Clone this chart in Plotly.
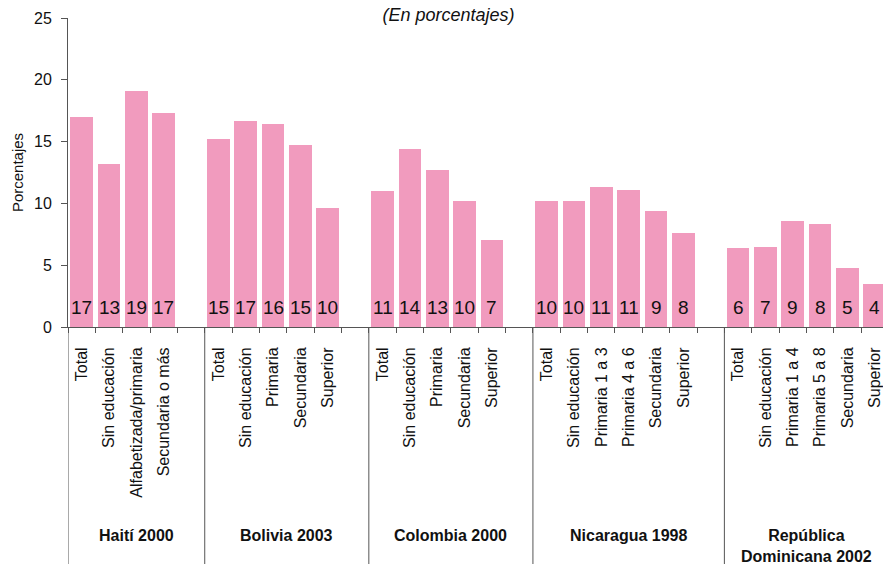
import plotly.graph_objects as go

# ---- data ----
groups = ["Haití 2000", "Bolivia 2003", "Colombia 2000", "Nicaragua 1998", "República<br>Dominicana 2002"]

haiti_cats = ["Total", "Sin educación", "Alfabetizada/primaria", "Secundaria o más"]
haiti_vals = [17.0, 13.2, 19.1, 17.3]
haiti_labels = ["17", "13", "19", "17"]

bolivia_cats = ["Total", "Sin educación", "Primaria", "Secundaria", "Superior"]
bolivia_vals = [15.2, 16.7, 16.4, 14.7, 9.6]
bolivia_labels = ["15", "17", "16", "15", "10"]

colombia_cats = ["Total", "Sin educación", "Primaria", "Secundaria", "Superior"]
colombia_vals = [11.0, 14.4, 12.7, 10.2, 7.0]
colombia_labels = ["11", "14", "13", "10", "7"]

nicaragua_cats = ["Total", "Sin educación", "Primaria 1 a 3", "Primaria 4 a 6", "Secundaria", "Superior"]
nicaragua_vals = [10.2, 10.2, 11.3, 11.1, 9.4, 7.6]
nicaragua_labels = ["10", "10", "11", "11", "9", "8"]

dominicana_cats = ["Total", "Sin educación", "Primaria 1 a 4", "Primaria 5 a 8", "Secundaria", "Superior"]
dominicana_vals = [6.4, 6.5, 8.6, 8.3, 4.8, 3.5]
dominicana_labels = ["6", "7", "9", "8", "5", "4"]

yticks = [0, 5, 10, 15, 20, 25]

all_cats = [haiti_cats, bolivia_cats, colombia_cats, nicaragua_cats, dominicana_cats]
all_vals = [haiti_vals, bolivia_vals, colombia_vals, nicaragua_vals, dominicana_vals]
all_labels = [haiti_labels, bolivia_labels, colombia_labels, nicaragua_labels, dominicana_labels]
gap_after = [1, 1, 1, 1, 0]

# ---- build slot positions ----
xs, ys, txt, names = [], [], [], []
group_spans = []
pos = 0
for cats, vals, labs, gap in zip(all_cats, all_vals, all_labels, gap_after):
    start = pos
    for c, v, l in zip(cats, vals, labs):
        xs.append(pos); ys.append(v); txt.append(l); names.append(c)
        pos += 1
    pos += gap
    group_spans.append((start, pos))

FONT = "Liberation Sans, Arial, Helvetica, sans-serif"
AXC = "#555555"
W, H = 883, 564

fig = go.Figure()
fig.add_trace(go.Bar(
    x=xs, y=ys, width=0.83,
    marker=dict(color="#F19BBE", line=dict(width=0)),
    hoverinfo="skip", showlegend=False,
))

annotations = []
for x, t in zip(xs, txt):
    annotations.append(dict(x=x, y=0, xref="x", yref="y", text=t, showarrow=False,
                            yanchor="bottom", yshift=7,
                            font=dict(family=FONT, size=19, color="#111111")))

for g, (s, e) in zip(groups, group_spans):
    annotations.append(dict(x=(s - 0.5 + e - 0.5) / 2, y=-0.642, xref="x", yref="paper",
                            text="<b>" + g + "</b>", showarrow=False, yanchor="top",
                            font=dict(family=FONT, size=16, color="#111111")))

shapes = []
for (s, e) in group_spans:
    shapes.append(dict(type="line", xref="x", yref="paper", x0=s - 0.5, x1=s - 0.5,
                       y0=0, y1=-0.8, line=dict(color=AXC, width=1)))

fig.update_layout(
    width=W, height=H,
    margin=dict(l=68, r=0, t=18, b=H - 18 - 309, autoexpand=False),
    plot_bgcolor="white", paper_bgcolor="white",
    title=dict(text="<i>(En porcentajes)</i>", x=448.5 / W, xref="container", xanchor="center",
               y=1 - 15 / H, yref="container", yanchor="middle",
               font=dict(family=FONT, size=18, color="#111111")),
    annotations=annotations,
    shapes=shapes,
    bargap=0,
    xaxis=dict(
        range=[-0.5, 29.3], showgrid=False, zeroline=False, automargin=False,
        showline=True, linecolor=AXC, linewidth=1,
        tickmode="array", tickvals=xs, ticktext=names, tickangle=-90,
        ticks="outside", ticklen=13, tickcolor="rgba(0,0,0,0)",
        tickfont=dict(family=FONT, size=16, color="#111111"),
        minor=dict(ticks="outside", ticklen=5, tickcolor=AXC, tickwidth=1,
                   tick0=0.5, dtick=1, showgrid=False),
    ),
    yaxis=dict(
        range=[0, 25], tickmode="array", tickvals=yticks, showgrid=False, zeroline=False,
        automargin=False,
        showline=True, linecolor=AXC, linewidth=1,
        ticks="outside", ticklen=6, tickcolor=AXC,
        tickfont=dict(family=FONT, size=16, color="#111111"),
        ticklabelstandoff=6,
        title=dict(text="Porcentajes", standoff=6,
                   font=dict(family=FONT, size=15, color="#111111")),
    ),
)

fig.write_html(
    "out.html",
    config={"displayModeBar": False},
    post_script="document.body.style.margin='0';"
                "document.body.style.overflow='hidden';"
                "document.documentElement.style.overflow='hidden';",
)
